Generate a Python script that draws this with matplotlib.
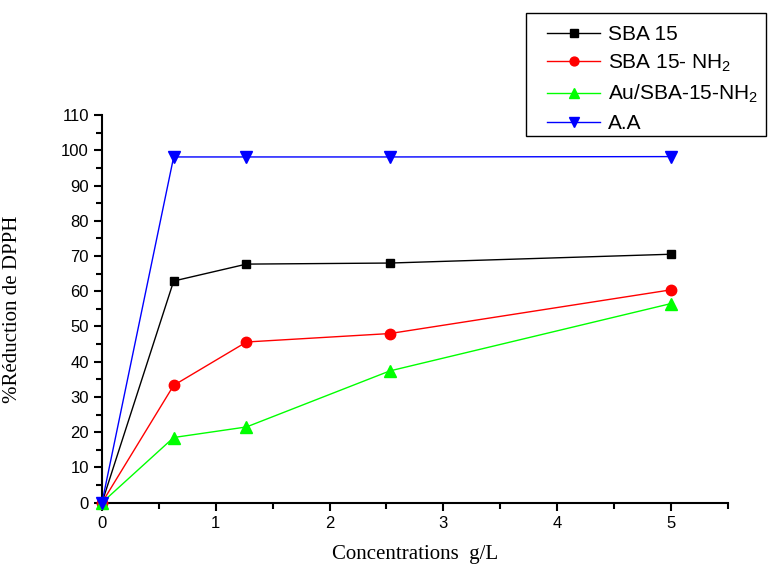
import matplotlib
matplotlib.use("Agg")
import matplotlib.pyplot as plt
from matplotlib.patches import Rectangle
from matplotlib.ticker import MultipleLocator

plt.rcParams['font.family'] = ['Liberation Sans', 'DejaVu Sans']
plt.rcParams['mathtext.fontset'] = 'custom'
plt.rcParams['mathtext.rm'] = 'Liberation Sans'
plt.rcParams['mathtext.default'] = 'regular'

# data
conc = [0, 0.63, 1.27, 2.53, 5]
sba15 = [0, 62.9, 67.7, 68.0, 70.5]
sba15_nh2 = [0, 33.3, 45.6, 48.0, 60.4]
au_sba = [0, 18.5, 21.5, 37.4, 56.5]
aa = [0, 98.1, 98.1, 98.1, 98.2]

W, H = 776, 566
fig = plt.figure(figsize=(W / 100, H / 100), dpi=100)
ax = fig.add_axes([0.1314, 0.1118, 0.8066, 0.685])

series = [
    (sba15, 'SBA 15', 'black', 's', 6),
    (sba15_nh2, 'SBA 15- NH$_2$', '#ff0000', 'o', 7.5),
    (au_sba, 'Au/SBA-15-NH$_2$', '#00ff00', '^', 8.5),
    (aa, 'A.A', '#0000ff', 'v', 8.5),
]
for vals, lab, col, mk, ms in series:
    ax.plot(conc, vals, color=col, marker=mk, markersize=ms, linewidth=1,
            label=lab, clip_on=False, zorder=3)

ax.set_xlim(0, 5.5)
ax.set_ylim(0, 110)
ax.xaxis.set_major_locator(MultipleLocator(1))
ax.xaxis.set_minor_locator(MultipleLocator(0.5))
ax.yaxis.set_major_locator(MultipleLocator(10))
ax.yaxis.set_minor_locator(MultipleLocator(5))
ax.tick_params(which='major', direction='out', length=6, width=1.5, labelsize=12)
ax.tick_params(which='minor', direction='out', length=4, width=1.5)
ax.spines['top'].set_visible(False)
ax.spines['right'].set_visible(False)
for s in ['left', 'bottom']:
    ax.spines[s].set_linewidth(1.5)

ax.set_xlabel('Concentrations  g/L', family='Liberation Serif', fontsize=15, labelpad=10)
ax.set_ylabel('%Réduction de DPPH', family='Liberation Serif', fontsize=15)
ax.yaxis.set_label_coords(-0.128, 0.5)

# legend entries without frame, box drawn separately (top right, above plot)
leg = fig.legend(loc='upper left', bbox_to_anchor=(547 / W, 1 - 25 / H),
                 borderaxespad=0, borderpad=0, frameon=False,
                 fontsize=15, numpoints=1, handlelength=2.55, handletextpad=0.38,
                 labelspacing=0.42, markerscale=0.85)
fig.patches.append(Rectangle((526 / W, 1 - 136 / H), 240 / W, 123 / H,
                             transform=fig.transFigure, fill=False,
                             edgecolor='black', linewidth=1))

fig.savefig('out.png', dpi=100)
